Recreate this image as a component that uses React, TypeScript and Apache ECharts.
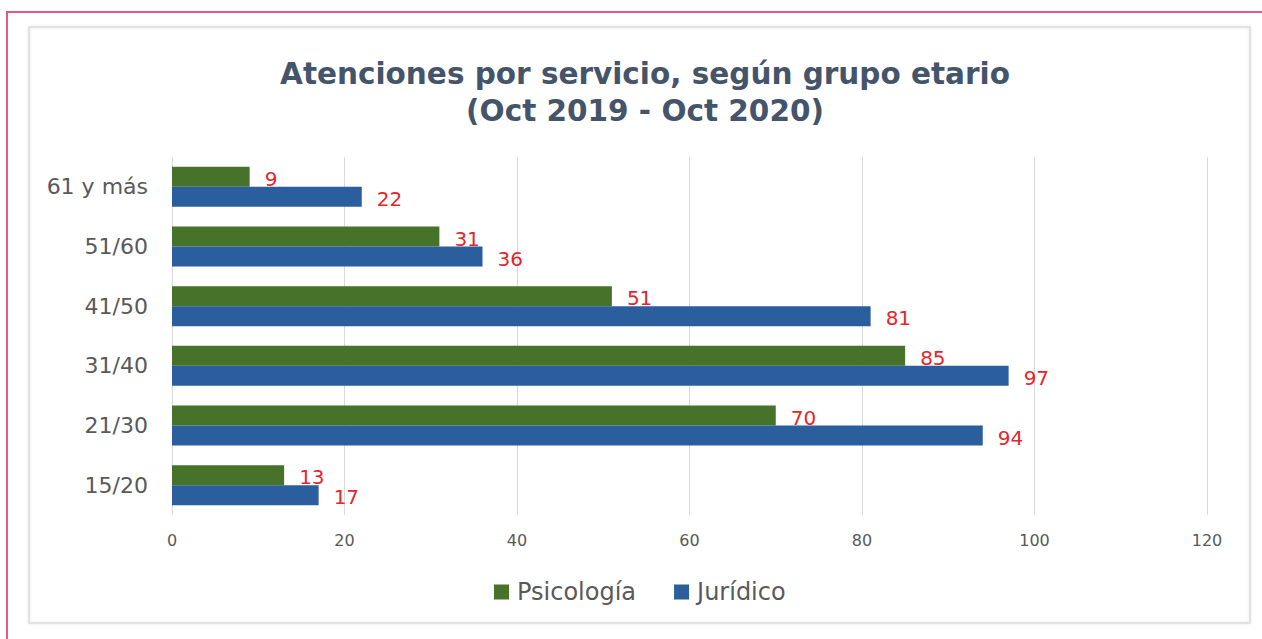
import React, { useEffect, useRef } from "react";
import * as echarts from "echarts";

const categories = ["15/20", "21/30", "31/40", "41/50", "51/60", "61 y más"];
const psicologia = [13, 70, 85, 51, 31, 9];
const juridico = [17, 94, 97, 81, 36, 22];
const xTicks = { min: 0, max: 120, interval: 20 };
const titleText = "Atenciones por servicio, según grupo etario\n(Oct 2019 - Oct 2020)";

const FONT = "'DejaVu Sans', sans-serif";

export default function App() {
  const ref = useRef<HTMLDivElement>(null);
  useEffect(() => {
    if (!ref.current) return;
    const chart = echarts.init(ref.current, null, { renderer: "svg" });
    const labelStyle = {
      show: true,
      position: "right" as const,
      distance: 15,
      offset: [0, 2],
      color: "#e4262c",
      fontSize: 20,
      fontFamily: FONT,
    };
    chart.setOption({
      animation: false,
      backgroundColor: "#ffffff",
      graphic: [
        {
          type: "rect",
          shape: { x: 7, y: 12, width: 1300, height: 700 },
          style: { fill: "none", stroke: "#e05a84", lineWidth: 2 },
          silent: true,
          z: 0,
        },
        {
          type: "rect",
          shape: { x: 29, y: 27, width: 1221, height: 596 },
          style: { fill: "none", stroke: "#dcdcdc", lineWidth: 1.5, shadowBlur: 3, shadowColor: "rgba(0,0,0,0.12)" },
          silent: true,
          z: 0,
        },
      ],
      title: {
        text: titleText,
        left: 640,
        textAlign: "center",
        top: 50,
        textStyle: {
          fontFamily: FONT,
          fontWeight: "bold",
          fontSize: 29.5,
          lineHeight: 37,
          color: "#44546a",
        },
      },
      legend: {
        data: ["Psicología", "Jurídico"],
        top: 575,
        left: 489,
        itemWidth: 15,
        itemHeight: 15,
        itemGap: 38,
        icon: "rect",
        textStyle: { fontFamily: FONT, fontSize: 24, color: "#595959", padding: [0, 0, 0, 3] },
      },
      grid: { left: 172, right: 55, top: 157, bottom: 124, containLabel: false },
      xAxis: {
        type: "value",
        min: xTicks.min,
        max: xTicks.max,
        interval: xTicks.interval,
        axisLine: { show: false },
        axisTick: { show: false },
        splitLine: { show: true, lineStyle: { color: "#d9d9d9", width: 1 } },
        axisLabel: { fontFamily: FONT, fontSize: 16, color: "#595959", margin: 17 },
      },
      yAxis: {
        type: "category",
        data: categories,
        axisLine: { show: false },
        axisTick: { show: false },
        axisLabel: { fontFamily: FONT, fontSize: 22, color: "#595959", margin: 24 },
      },
      series: [
        {
          name: "Psicología",
          type: "bar",
          data: psicologia,
          barWidth: 20,
          barGap: "0%",
          itemStyle: { color: "#46722a" },
          label: labelStyle,
        },
        {
          name: "Jurídico",
          type: "bar",
          data: juridico,
          barWidth: 20,
          barGap: "0%",
          itemStyle: { color: "#2a5e9c" },
          label: labelStyle,
        },
      ],
    });
    return () => chart.dispose();
  }, []);
  return (
    <div
      ref={ref}
      style={{ position: "absolute", left: 0, top: 0, width: 1262, height: 639 }}
    />
  );
}
